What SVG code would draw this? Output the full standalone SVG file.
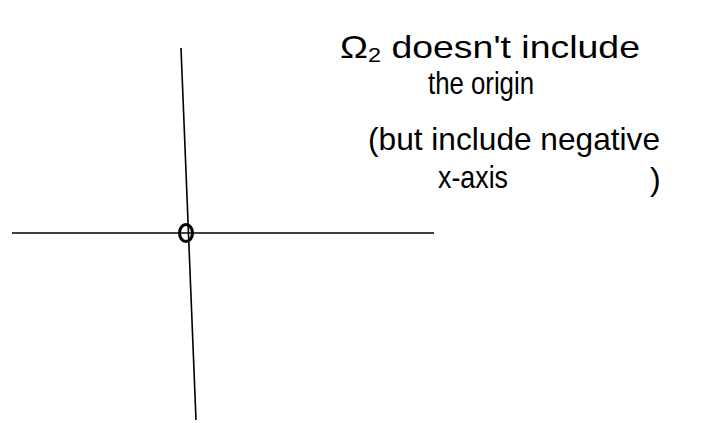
<svg xmlns="http://www.w3.org/2000/svg" width="714" height="423" viewBox="0 0 714 423">
<style>
.ax{stroke:#000;stroke-width:1.6;fill:none}
.t{font-family:"Liberation Sans",Arial,sans-serif;fill:#000;font-size:32px}
</style>
<rect width="714" height="423" fill="#fff"/>
<g id="axes" class="ax">
<line x1="12" y1="233" x2="434" y2="233"/>
<line x1="181" y1="48" x2="196" y2="420"/>
</g>
<g id="origin">
<ellipse cx="186" cy="233" rx="6.5" ry="8.5" fill="none" stroke="#000" stroke-width="3"/>
</g>
<g id="note">
<text class="t" x="340" y="58" font-size="30" textLength="300" lengthAdjust="spacingAndGlyphs">Ω<tspan font-size="20" dy="4">2</tspan><tspan dy="-4"> doesn't include</tspan></text>
<text class="t" x="428" y="94" textLength="106" lengthAdjust="spacingAndGlyphs">the origin</text>
<text class="t" x="368" y="150" font-size="34" textLength="292" lengthAdjust="spacingAndGlyphs">(but include negative</text>
<text class="t" x="438" y="188" textLength="70" lengthAdjust="spacingAndGlyphs">x-axis</text>
<text class="t" x="650" y="190" font-size="34">)</text>
</g>
</svg>
